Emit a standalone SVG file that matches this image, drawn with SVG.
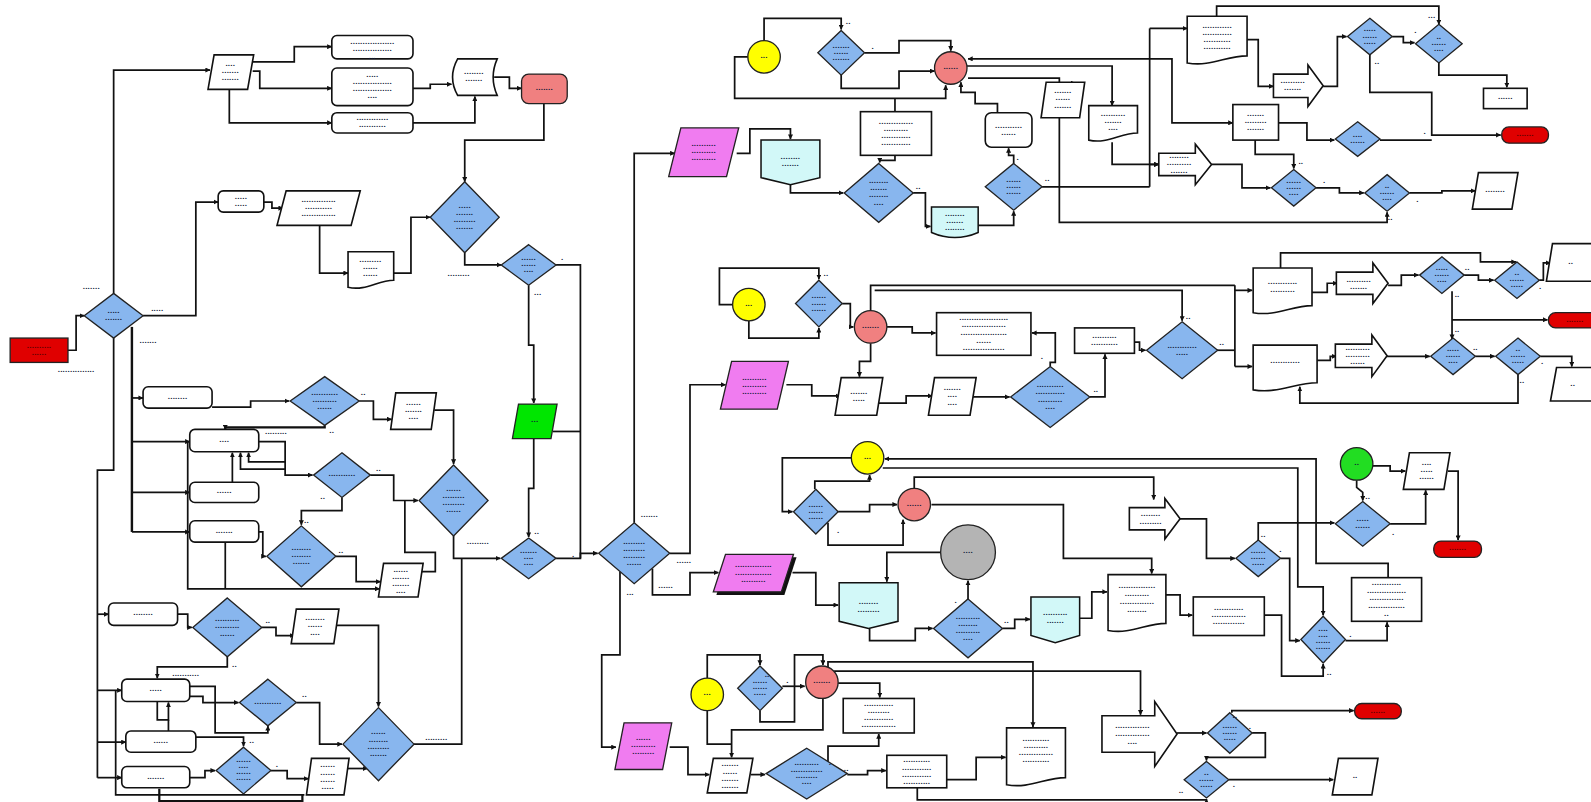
<svg xmlns="http://www.w3.org/2000/svg" width="1591" height="802" viewBox="0 0 1591 802">
<defs>
<marker id="ah" viewBox="0 0 6 6" refX="5.5" refY="3" markerWidth="5" markerHeight="5" markerUnits="userSpaceOnUse" orient="auto"><path d="M0,0 L6,3 L0,6 z" fill="#111"/></marker>
<style>
.s{fill:#fff;stroke:#111;stroke-width:1.6}
.d{fill:#88b6ee;stroke:#222;stroke-width:1.3}
.sal{fill:#f08080;stroke:#222;stroke-width:1.3}
.yel{fill:#ffff00;stroke:#222;stroke-width:1.3}
.grn{fill:#22dd22;stroke:#222;stroke-width:1.3}
.gry{fill:#b4b4b4;stroke:#222;stroke-width:1.3}
.mag{fill:#f07cf0;stroke:#222;stroke-width:1.3}
.cy{fill:#d2f8f8;stroke:#111;stroke-width:1.5}
.red{fill:#e00000;stroke:#222;stroke-width:1.3}
.cn polyline{fill:none;stroke:#111;stroke-width:1.7;marker-end:url(#ah)}
.cn .nm{marker-end:none}
.t{font-family:"Liberation Sans",Arial,sans-serif;font-size:8px;font-weight:bold;fill:#101838;text-anchor:middle;letter-spacing:0.2px}
.tr{fill:#5a0000}
.l{font-family:"Liberation Sans",Arial,sans-serif;font-size:8px;font-weight:bold;fill:#101838;text-anchor:middle;letter-spacing:0.2px}
</style>
</defs>
<rect width="1591" height="802" fill="#fff"/>
<g transform="scale(1.0147 1.0152)">
<g class="cn" id="connectors">
<polyline points="67,345 75,345 75,311 83,311"/>
<polyline points="112,289 112,69 207,69"/>
<polyline points="249,61 290,61 290,46 327,46"/>
<polyline points="249,70 256,70 256,87 327,87"/>
<polyline points="226,88 226,121 327,121"/>
<polyline points="407,87 424,87 424,83 445,83"/>
<polyline points="407,121 468,121 468,95"/>
<polyline points="487,76 502,76 502,87 514,87"/>
<polyline points="536,102 536,138 458,138 458,179"/>
<polyline points="141,311 193,311 193,199 215,199"/>
<polyline points="260,199 268,199 268,205 279,205"/>
<polyline points="315,222 315,269 343,269"/>
<polyline points="388,269 405,269 405,214 424,214"/>
<polyline points="458,249 458,261 494,261"/>
<polyline class="nm" points="548,261 572,261 572,550"/>
<polyline points="521,281 521,340 526,340 526,397"/>
<polyline class="nm" points="545,425 572,425"/>
<polyline points="526,432 526,481 521,481 521,529"/>
<polyline points="548,550 572,550 572,545 589,545"/>
<polyline points="625,515 625,151 665,151"/>
<polyline class="nm" points="112,333 112,463 96,463 96,766"/>
<polyline class="nm" points="130,322 130,524" style="stroke-width:2.4"/>
<polyline points="130,392 141,392"/>
<polyline points="130,435 187,435"/>
<polyline points="130,485 187,485"/>
<polyline points="130,524 187,524"/>
<polyline points="185,435 185,580 374,580"/>
<polyline class="nm" points="222,534 222,580"/>
<polyline points="209,401 247,401 247,395 285,395"/>
<polyline points="354,395 368,395 368,413 386,413"/>
<polyline points="428,404 447,404 447,457"/>
<polyline points="320,419 320,421 222,421 222,423" style="stroke-width:2.2"/>
<polyline points="255,435 281,435 281,468 308,468"/>
<polyline points="229,475 229,446"/>
<polyline points="281,462 237,462 237,446"/>
<polyline points="281,455 245,455 245,446"/>
<polyline points="337,490 337,503 297,503 297,517"/>
<polyline points="365,468 388,468 388,493 412,493"/>
<polyline points="447,528 447,550 493,550"/>
<polyline points="255,524 259,524 259,548 262,548"/>
<polyline points="331,548 351,548 351,573 375,573"/>
<polyline class="nm" points="414,563 429,563 429,544 399,544 399,493"/>
<polyline class="nm" points="455,550 455,733 408,733"/>
<polyline points="96,605 107,605"/>
<polyline points="175,605 185,605 185,618 189,618"/>
<polyline points="258,618 272,618 272,626 290,626"/>
<polyline points="331,616 373,616 373,696"/>
<polyline points="224,647 224,657 155,657 155,668"/>
<polyline points="96,680 120,680"/>
<polyline class="nm" points="114,680 114,783 300,783"/>
<polyline points="96,731 124,731"/>
<polyline points="96,766 120,766"/>
<polyline points="187,676 212,676 212,722 264,722 264,715"/>
<polyline points="187,686 200,686 200,692 235,692"/>
<polyline points="155,691 155,709 166,709 166,692"/>
<polyline points="166,709 166,726 240,726 240,735"/>
<polyline points="292,692 315,692 315,733 337,733"/>
<polyline points="187,766 202,766 202,759 212,759"/>
<polyline points="267,759 283,759 283,767 304,767"/>
<polyline points="341,757 362,757"/>
<polyline class="nm" points="157,777 157,789 298,789 298,783" style="stroke-width:2.2"/>
<polyline points="753,40 753,18 829,18 829,29"/>
<polyline points="737,56 724,56 724,97 932,97 932,84"/>
<polyline points="852,52 886,52 886,40 937,40 937,50"/>
<polyline points="829,74 829,87 886,87 886,70 921,70"/>
<polyline class="nm" points="882,97 882,110"/>
<polyline points="882,153 882,158 867,158 867,160"/>
<polyline points="726,151 739,151 739,127 779,127 779,137"/>
<polyline points="779,182 779,190 831,190"/>
<polyline points="900,190 912,190 912,223 917,223"/>
<polyline points="964,222 999,222 999,208"/>
<polyline points="999,161 999,153 994,153 994,146"/>
<polyline points="983,111 983,102 961,102 961,91 947,91 947,81"/>
<polyline class="nm" points="1027,184 1133,184"/>
<polyline points="1133,58 954,58"/>
<polyline points="953,65 1096,65 1096,104"/>
<polyline points="954,77 1044,77 1044,219 1367,219 1367,209"/>
<polyline points="1044,82 1060,82"/>
<polyline points="1096,140 1096,162 1142,162"/>
<polyline class="nm" points="1133,28 1133,184"/>
<polyline points="1133,28 1170,28"/>
<polyline points="1133,162 1142,162"/>
<polyline points="1133,58 1155,58 1155,121 1215,121"/>
<polyline points="1199,16 1199,6 1418,6 1418,24"/>
<polyline points="1229,39 1240,39 1240,85 1255,85"/>
<polyline points="1304,85 1318,85 1318,36 1327,36"/>
<polyline points="1372,36 1383,36 1383,42 1394,42"/>
<polyline points="1418,62 1418,74 1485,74 1485,86"/>
<polyline points="1350,54 1350,91 1411,91 1411,133 1479,133"/>
<polyline points="1260,121 1288,121 1288,138 1315,138"/>
<polyline class="nm" points="1360,138 1411,138"/>
<polyline points="1237,138 1237,152 1275,152 1275,166"/>
<polyline points="1194,162 1224,162 1224,185 1252,185"/>
<polyline points="1297,185 1320,185 1320,190 1344,190"/>
<polyline points="1389,190 1421,190 1421,188 1454,188"/>
<polyline points="722,300 709,300 709,264 807,264 807,275"/>
<polyline points="738,316 738,333 807,333 807,323"/>
<polyline points="830,299 838,299 838,322 841,322"/>
<polyline points="874,322 899,322 899,328 922,328"/>
<polyline class="nm" points="858,306 858,281 1217,281"/>
<polyline points="862,286 1165,286 1165,316"/>
<polyline class="nm" points="1217,281 1217,361"/>
<polyline points="1217,286 1234,286"/>
<polyline class="nm" points="1199,345 1217,345"/>
<polyline points="1217,361 1234,361"/>
<polyline points="858,338 858,356 847,356 847,371"/>
<polyline points="660,545 680,545 680,379 715,379"/>
<polyline points="775,379 800,379 800,390 828,390"/>
<polyline points="866,397 893,397 893,390 919,390"/>
<polyline points="958,391 995,391"/>
<polyline points="1035,361 1035,357 1040,357 1040,328 1017,328"/>
<polyline points="1074,391 1089,391 1089,349"/>
<polyline points="1118,337 1123,337 1123,345 1129,345"/>
<polyline points="1262,264 1262,249 1459,249 1459,258 1494,258"/>
<polyline points="1293,288 1308,288 1308,279 1318,279"/>
<polyline points="1368,281 1381,281 1381,271 1398,271"/>
<polyline points="1443,271 1457,271 1457,276 1472,276"/>
<polyline points="1517,276 1521,276 1521,259 1528,259"/>
<polyline points="1431,287 1431,334"/>
<polyline points="1431,315 1525,315"/>
<polyline points="1298,355 1311,355 1311,351 1317,351"/>
<polyline points="1367,351 1409,351"/>
<polyline points="1454,351 1473,351"/>
<polyline points="1518,351 1549,351 1549,361"/>
<polyline points="1496,369 1496,397 1281,397 1281,381"/>
<polyline points="839,451 771,451 771,504 781,504"/>
<polyline points="803,482 803,474 857,474 857,468"/>
<polyline points="826,504 857,504 857,497 884,497"/>
<polyline points="816,515 816,537 890,537 890,512"/>
<polyline points="901,481 901,470 1137,470 1137,492"/>
<polyline points="1368,569 1368,555 1297,555 1297,452 872,452"/>
<polyline points="870,461 1279,461 1279,578 1304,578 1304,606"/>
<polyline points="918,497 1048,497 1048,550 1135,550 1135,565"/>
<polyline points="928,544 874,544 874,573"/>
<polyline points="954,591 954,572"/>
<polyline points="611,563 611,645 593,645 593,736 607,736"/>
<polyline points="643,560 643,586 680,586 680,564 708,564"/>
<polyline points="781,564 804,564 804,596 826,596"/>
<polyline points="857,619 857,631 902,631 902,619 919,619"/>
<polyline points="988,619 1000,619 1000,610 1015,610"/>
<polyline points="1064,609 1076,609 1076,583 1091,583"/>
<polyline points="1149,586 1163,586 1163,606 1175,606"/>
<polyline points="1246,606 1263,606 1263,666 1304,666 1304,654"/>
<polyline points="1163,511 1189,511 1189,550 1217,550"/>
<polyline points="1240,532 1240,515 1315,515"/>
<polyline points="1262,550 1271,550 1271,631 1281,631"/>
<polyline points="1326,631 1367,631 1367,613"/>
<polyline points="1337,473 1337,480 1343,485 1343,493"/>
<polyline points="1353,459 1370,459 1370,464 1385,464"/>
<polyline points="1370,516 1405,516 1405,483"/>
<polyline points="1427,464 1437,464 1437,532"/>
<polyline points="660,736 678,736 678,763 699,763"/>
<polyline points="697,668 697,645 749,645 749,655"/>
<polyline class="nm" points="697,700 697,733 721,733"/>
<polyline points="811,688 811,719 721,719 721,746"/>
<polyline points="749,700 749,711 783,711 783,645 811,645 811,655"/>
<polyline points="771,676 793,676"/>
<polyline points="826,673 867,673 867,687"/>
<polyline points="822,661 1124,661 1124,704"/>
<polyline points="816,657 816,652 1018,652 1018,716"/>
<polyline points="740,763 754,763"/>
<polyline points="816,755 816,735 866,735 866,723"/>
<polyline points="835,763 855,763 855,759 873,759"/>
<polyline points="933,768 962,768 962,746 991,746"/>
<polyline points="904,776 904,788 1189,788 1189,787"/>
<polyline points="1160,722 1189,722"/>
<polyline points="1214,702 1214,700 1334,700"/>
<polyline points="1234,722 1247,722 1247,746 1189,746 1189,749"/>
<polyline points="1211,768 1314,768"/>
</g>

<g id="n1"><rect class="red" x="10" y="333" width="57" height="24"/><text class="t tr" x="38.5" y="342.5"><tspan x="38.5">..........</tspan><tspan x="38.5" dy="7">......</tspan></text></g>
<g id="n2"><polygon class="d" points="112,289 141,311 112,333 83,311"/><text class="t" x="112" y="308.5"><tspan x="112">.....</tspan><tspan x="112" dy="7">.......</tspan></text></g>
<g id="n3"><polygon class="s" points="211,54 250,54 244,88 205,88"/><text class="t" x="227" y="65"><tspan x="227">....</tspan><tspan x="227" dy="7">.......</tspan><tspan x="227" dy="7">.......</tspan></text></g>
<g id="n4"><rect class="s" x="327" y="35" width="80" height="23" rx="5"/><text class="t" x="367" y="43"><tspan x="367">..................</tspan><tspan x="367" dy="7">................</tspan><tspan x="367" dy="8">...</tspan></text></g>
<g id="n5"><rect class="s" x="327" y="67" width="80" height="37" rx="5"/><text class="t" x="367" y="76"><tspan x="367">.....</tspan><tspan x="367" dy="7">................</tspan><tspan x="367" dy="7">................</tspan><tspan x="367" dy="7">....</tspan></text></g>
<g id="n6"><rect class="s" x="327" y="111" width="80" height="20" rx="5"/><text class="t" x="367" y="118.5"><tspan x="367">.............</tspan><tspan x="367" dy="7">...........</tspan></text></g>
<g id="n7"><path class="s" d="M451,58 H490 Q482,76 490,94 H451 Q441,76 451,58 Z"/><text class="t" x="467" y="73"><tspan x="467">........</tspan><tspan x="467" dy="7">.......</tspan></text></g>
<g id="n8"><rect class="sal" x="514" y="73" width="45" height="29" rx="7"/><text class="t" x="536.5" y="88.5">.......</text></g>
<g id="n9"><polygon class="d" points="458,179 492,214 458,249 424,214"/><text class="t" x="458" y="204.5"><tspan x="458">.....</tspan><tspan x="458" dy="7">.......</tspan><tspan x="458" dy="7">.........</tspan><tspan x="458" dy="7">.......</tspan></text></g>
<g id="n10"><rect class="s" x="215" y="188" width="45" height="21" rx="5"/><text class="t" x="237.5" y="196"><tspan x="237.5">.....</tspan><tspan x="237.5" dy="7">.....</tspan></text></g>
<g id="n11"><polygon class="s" points="282,188 355,188 346,222 273,222"/><text class="t" x="314" y="199"><tspan x="314">..............</tspan><tspan x="314" dy="7">...........</tspan><tspan x="314" dy="7">..............</tspan></text></g>
<g id="n12"><path class="s" d="M343,248 H388 V276 C372,276 361,287 343,283 Z"/><text class="t" x="365" y="258"><tspan x="365">.........</tspan><tspan x="365" dy="7">......</tspan><tspan x="365" dy="7">......</tspan></text></g>
<g id="n13"><polygon class="d" points="521,241 548,261 521,281 494,261"/><text class="t" x="521" y="256"><tspan x="521">......</tspan><tspan x="521" dy="6">......</tspan><tspan x="521" dy="6">....</tspan></text></g>
<g id="n14"><polygon points="511,398 549,398 543,432 505,432" fill="#00e600" stroke="#222" stroke-width="1.3"/><text class="t" x="527" y="416">...</text></g>
<g id="n15"><polygon class="d" points="521,530 548,550 521,570 494,550"/><text class="t" x="521" y="545"><tspan x="521">.......</tspan><tspan x="521" dy="6">....</tspan><tspan x="521" dy="6">....</tspan></text></g>
<g id="n16"><polygon class="d" points="625,515 660,545 625,575 590,545"/><text class="t" x="625" y="535.5"><tspan x="625">.........</tspan><tspan x="625" dy="7">.........</tspan><tspan x="625" dy="7">.........</tspan><tspan x="625" dy="7">......</tspan></text></g>

<g id="n17"><rect class="s" x="141" y="381" width="68" height="21" rx="5"/><text class="t" x="175" y="393">........</text></g>
<g id="n18"><polygon class="d" points="320,371 354,395 320,419 286,395"/><text class="t" x="320" y="389"><tspan x="320">...........</tspan><tspan x="320" dy="7">..........</tspan><tspan x="320" dy="7">......</tspan></text></g>
<g id="n19"><polygon class="s" points="390,387 430,387 425,423 385,423"/><text class="t" x="407.5" y="399"><tspan x="407.5">......</tspan><tspan x="407.5" dy="7">.......</tspan><tspan x="407.5" dy="7">....</tspan></text></g>
<g id="n20"><rect class="s" x="187" y="423" width="68" height="22" rx="5"/><text class="t" x="221" y="435">....</text></g>
<g id="n21"><rect class="s" x="187" y="475" width="68" height="20" rx="5"/><text class="t" x="221" y="486">......</text></g>
<g id="n22"><rect class="s" x="187" y="513" width="68" height="21" rx="5"/><text class="t" x="221" y="525">.......</text></g>
<g id="n23"><polygon class="d" points="337,446 365,468 337,490 309,468"/><text class="t" x="337" y="469">...........</text></g>
<g id="n24"><polygon class="d" points="447,458 481,493 447,528 413,493"/><text class="t" x="447" y="483.5"><tspan x="447">......</tspan><tspan x="447" dy="7">.........</tspan><tspan x="447" dy="7">.........</tspan><tspan x="447" dy="7">......</tspan></text></g>
<g id="n25"><polygon class="d" points="297,518 331,548 297,578 263,548"/><text class="t" x="297" y="542"><tspan x="297">........</tspan><tspan x="297" dy="7">........</tspan><tspan x="297" dy="7">.......</tspan></text></g>
<g id="n26"><polygon class="s" points="378,555 417,555 412,588 373,588"/><text class="t" x="395" y="563"><tspan x="395">......</tspan><tspan x="395" dy="7">.......</tspan><tspan x="395" dy="7">.......</tspan><tspan x="395" dy="7">....</tspan></text></g>

<g id="n27"><rect class="s" x="107" y="594" width="68" height="22" rx="5"/><text class="t" x="141" y="606">........</text></g>
<g id="n28"><polygon class="d" points="224,589 258,618 224,647 190,618"/><text class="t" x="224" y="612"><tspan x="224">..........</tspan><tspan x="224" dy="7">..........</tspan><tspan x="224" dy="7">......</tspan></text></g>
<g id="n29"><polygon class="s" points="292,600 334,600 329,634 287,634"/><text class="t" x="310.5" y="611"><tspan x="310.5">........</tspan><tspan x="310.5" dy="7">......</tspan><tspan x="310.5" dy="7">....</tspan></text></g>
<g id="n30"><rect class="s" x="120" y="669" width="67" height="22" rx="5"/><text class="t" x="153.5" y="681">.....</text></g>
<g id="n31"><polygon class="d" points="264,669 292,692 264,715 236,692"/><text class="t" x="264" y="693">...........</text></g>
<g id="n32"><rect class="s" x="124" y="720" width="69" height="21" rx="5"/><text class="t" x="158.5" y="732">......</text></g>
<g id="n33"><rect class="s" x="120" y="755" width="67" height="21" rx="5"/><text class="t" x="153.5" y="767">.......</text></g>
<g id="n34"><polygon class="d" points="240,736 267,759 240,782 213,759"/><text class="t" x="240" y="750.5"><tspan x="240">......</tspan><tspan x="240" dy="6">....</tspan><tspan x="240" dy="6">......</tspan><tspan x="240" dy="6">......</tspan></text></g>
<g id="n35"><polygon class="s" points="307,747 344,747 339,783 302,783"/><text class="t" x="323" y="756"><tspan x="323">......</tspan><tspan x="323" dy="7">......</tspan><tspan x="323" dy="7">......</tspan><tspan x="323" dy="7">.....</tspan></text></g>
<g id="n36"><polygon class="d" points="373,697 408,733 373,769 338,733"/><text class="t" x="373" y="723.5"><tspan x="373">......</tspan><tspan x="373" dy="7">........</tspan><tspan x="373" dy="7">.........</tspan><tspan x="373" dy="7">.......</tspan></text></g>

<g id="n37"><polygon class="mag" points="671,126 728,126 716,174 659,174"/><text class="t" x="693.5" y="144"><tspan x="693.5">..........</tspan><tspan x="693.5" dy="7">..........</tspan><tspan x="693.5" dy="7">..........</tspan></text></g>
<g id="n38"><path class="cy" d="M750,138 H808 V175 L779,182 L750,175 Z"/><text class="t" x="779" y="157"><tspan x="779">........</tspan><tspan x="779" dy="7">.......</tspan></text></g>
<g id="n39"><polygon class="d" points="866,161 900,190 866,219 832,190"/><text class="t" x="866" y="180.5"><tspan x="866">........</tspan><tspan x="866" dy="7">.......</tspan><tspan x="866" dy="7">........</tspan><tspan x="866" dy="7">....</tspan></text></g>
<g id="n40"><rect class="s" x="848" y="110" width="70" height="43"/><text class="t" x="883" y="122"><tspan x="883">..............</tspan><tspan x="883" dy="7">..........</tspan><tspan x="883" dy="7">............</tspan><tspan x="883" dy="7">............</tspan></text></g>
<g id="n41"><path class="cy" d="M918,204 H964 V229 Q941,239 918,229 Z"/><text class="t" x="941" y="213"><tspan x="941">........</tspan><tspan x="941" dy="7">.......</tspan><tspan x="941" dy="7">........</tspan></text></g>
<g id="n42"><polygon class="d" points="999,161 1027,184 999,207 971,184"/><text class="t" x="999" y="179"><tspan x="999">......</tspan><tspan x="999" dy="6">......</tspan><tspan x="999" dy="6">......</tspan></text></g>
<g id="n43"><rect class="s" x="971" y="111" width="46" height="34" rx="6"/><text class="t" x="994" y="126"><tspan x="994">...........</tspan><tspan x="994" dy="7">......</tspan></text></g>
<g id="n44"><circle class="sal" cx="937" cy="67" r="16"/><text class="t" x="937" y="68">......</text></g>
<g id="n45"><circle class="yel" cx="753" cy="56" r="16"/><text class="t" x="753" y="57">...</text></g>
<g id="n46"><polygon class="d" points="829,30 852,52 829,74 806,52"/><text class="t" x="829" y="47"><tspan x="829">.......</tspan><tspan x="829" dy="6">......</tspan><tspan x="829" dy="6">.......</tspan></text></g>
<g id="n47"><polygon class="s" points="1031,81 1069,81 1064,116 1026,116"/><text class="t" x="1047.5" y="92"><tspan x="1047.5">.......</tspan><tspan x="1047.5" dy="7">......</tspan><tspan x="1047.5" dy="7">.......</tspan></text></g>
<g id="n48"><path class="s" d="M1073,104 H1121 V131 C1104,131 1092,142 1073,138 Z"/><text class="t" x="1097" y="114"><tspan x="1097">..........</tspan><tspan x="1097" dy="7">.......</tspan><tspan x="1097" dy="7">....</tspan></text></g>

<g id="n49"><path class="s" d="M1170,16 H1229 V55 C1208,55 1194,66 1170,62 Z"/><text class="t" x="1199.5" y="27.5"><tspan x="1199.5">............</tspan><tspan x="1199.5" dy="7">............</tspan><tspan x="1199.5" dy="7">...........</tspan><tspan x="1199.5" dy="7">...........</tspan></text></g>
<g id="n50"><path class="s" d="M1255,73 H1289 V64 L1304,84.5 L1289,105 V96 H1255 Z"/><text class="t" x="1274" y="82"><tspan x="1274">..........</tspan><tspan x="1274" dy="7">.......</tspan></text></g>
<g id="n51"><polygon class="d" points="1350,18 1372,36 1350,54 1328,36"/><text class="t" x="1350" y="31"><tspan x="1350">.....</tspan><tspan x="1350" dy="6">......</tspan><tspan x="1350" dy="6">.....</tspan></text></g>
<g id="n52"><polygon class="d" points="1418,24 1441,43 1418,62 1395,43"/><text class="t" x="1418" y="38"><tspan x="1418">..</tspan><tspan x="1418" dy="6">......</tspan><tspan x="1418" dy="6">....</tspan></text></g>
<g id="n53"><rect class="s" x="1462" y="87" width="43" height="20"/><text class="t" x="1483.5" y="98">......</text></g>
<g id="n54"><rect class="red" x="1480" y="125" width="46" height="16" rx="7"/><text class="t tr" x="1503" y="134">.......</text></g>
<g id="n55"><rect class="s" x="1215" y="103" width="45" height="35"/><text class="t" x="1237.5" y="114"><tspan x="1237.5">.......</tspan><tspan x="1237.5" dy="7">.........</tspan><tspan x="1237.5" dy="7">.......</tspan></text></g>
<g id="n56"><polygon class="d" points="1338,120 1360,137 1338,154 1316,137"/><text class="t" x="1338" y="135"><tspan x="1338">....</tspan><tspan x="1338" dy="6">......</tspan></text></g>
<g id="n57"><path class="s" d="M1142,151 H1178 V142 L1194,162 L1178,182 V173 H1142 Z"/><text class="t" x="1162" y="156"><tspan x="1162">........</tspan><tspan x="1162" dy="7">..........</tspan><tspan x="1162" dy="7">.......</tspan></text></g>
<g id="n58"><polygon class="d" points="1275,167 1297,185 1275,203 1253,185"/><text class="t" x="1275" y="180"><tspan x="1275">......</tspan><tspan x="1275" dy="6">......</tspan><tspan x="1275" dy="6">....</tspan></text></g>
<g id="n59"><polygon class="d" points="1367,172 1389,190 1367,208 1345,190"/><text class="t" x="1367" y="185"><tspan x="1367">..</tspan><tspan x="1367" dy="6">......</tspan><tspan x="1367" dy="6">....</tspan></text></g>
<g id="n60"><polygon class="s" points="1457,170 1496,170 1490,206 1451,206"/><text class="t" x="1473.5" y="189">........</text></g>

<g id="n61"><circle class="yel" cx="738" cy="300" r="16"/><text class="t" x="738" y="301">...</text></g>
<g id="n62"><polygon class="d" points="807,276 830,299 807,322 784,299"/><text class="t" x="807" y="294"><tspan x="807">......</tspan><tspan x="807" dy="6">......</tspan><tspan x="807" dy="6">......</tspan></text></g>
<g id="n63"><circle class="sal" cx="858" cy="322" r="16"/><text class="t" x="858" y="323">.......</text></g>
<g id="n64"><rect class="s" x="923" y="308" width="93" height="42"/><text class="t" x="969.5" y="315"><tspan x="969.5">....................</tspan><tspan x="969.5" dy="7.5">..................</tspan><tspan x="969.5" dy="7.5">...................</tspan><tspan x="969.5" dy="7.5">......</tspan><tspan x="969.5" dy="7.5">.................</tspan></text></g>
<g id="n65"><polygon class="mag" points="721,356 777,356 766,403 710,403"/><text class="t" x="743.5" y="374"><tspan x="743.5">..........</tspan><tspan x="743.5" dy="7">..........</tspan><tspan x="743.5" dy="7">..........</tspan></text></g>
<g id="n66"><polygon class="s" points="829,372 870,372 864,409 823,409"/><text class="t" x="846.5" y="388"><tspan x="846.5">.......</tspan><tspan x="846.5" dy="7">.....</tspan></text></g>
<g id="n67"><polygon class="s" points="921,372 962,372 956,409 915,409"/><text class="t" x="938.5" y="384.5"><tspan x="938.5">.......</tspan><tspan x="938.5" dy="7">....</tspan><tspan x="938.5" dy="7">....</tspan></text></g>
<g id="n68"><polygon class="d" points="1035,361 1074,391 1035,421 996,391"/><text class="t" x="1035" y="381.5"><tspan x="1035">...........</tspan><tspan x="1035" dy="7">............</tspan><tspan x="1035" dy="7">..........</tspan><tspan x="1035" dy="7">....</tspan></text></g>
<g id="n69"><rect class="s" x="1059" y="323" width="59" height="25"/><text class="t" x="1088.5" y="333"><tspan x="1088.5">..........</tspan><tspan x="1088.5" dy="7">...........</tspan></text></g>
<g id="n70"><polygon class="d" points="1165,317 1200,345 1165,373 1130,345"/><text class="t" x="1165" y="342.5"><tspan x="1165">............</tspan><tspan x="1165" dy="7">.....</tspan></text></g>
<g id="n71"><path class="s" d="M1235,264 H1293 V301 C1273,301 1258,312 1235,308 Z"/><text class="t" x="1264" y="280"><tspan x="1264">............</tspan><tspan x="1264" dy="8">..........</tspan></text></g>
<g id="n72"><path class="s" d="M1235,340 H1298 V377 C1276,377 1260,388 1235,384 Z"/><text class="t" x="1266.5" y="358">............</text></g>
<g id="n73"><path class="s" d="M1317,268 H1353 V259 L1368,279 L1353,299 V290 H1317 Z"/><text class="t" x="1339" y="278"><tspan x="1339">..........</tspan><tspan x="1339" dy="7">.......</tspan></text></g>
<g id="n74"><path class="s" d="M1316,339 H1352 V330 L1367,350.5 L1352,371 V362 H1316 Z"/><text class="t" x="1338" y="345"><tspan x="1338">..........</tspan><tspan x="1338" dy="7">..........</tspan><tspan x="1338" dy="7">......</tspan></text></g>
<g id="n75"><polygon class="d" points="1421,253 1443,271 1421,289 1399,271"/><text class="t" x="1421" y="266"><tspan x="1421">.....</tspan><tspan x="1421" dy="6">......</tspan><tspan x="1421" dy="6">....</tspan></text></g>
<g id="n76"><polygon class="d" points="1495,258 1517,276 1495,294 1473,276"/><text class="t" x="1495" y="271"><tspan x="1495">..</tspan><tspan x="1495" dy="6">......</tspan><tspan x="1495" dy="6">.....</tspan></text></g>
<g id="n77"><polygon class="s" points="1530,240 1578,240 1572,277 1524,277"/><text class="t" x="1548" y="260">..</text></g>
<g id="n78"><rect class="red" x="1526" y="308" width="55" height="15" rx="7"/><text class="t tr" x="1552" y="317">.......</text></g>
<g id="n79"><polygon class="d" points="1432,333 1454,351 1432,369 1410,351"/><text class="t" x="1432" y="346"><tspan x="1432">.....</tspan><tspan x="1432" dy="6">......</tspan><tspan x="1432" dy="6">....</tspan></text></g>
<g id="n80"><polygon class="d" points="1496,333 1518,351 1496,369 1474,351"/><text class="t" x="1496" y="346"><tspan x="1496">..</tspan><tspan x="1496" dy="6">......</tspan><tspan x="1496" dy="6">.....</tspan></text></g>
<g id="n81"><polygon class="s" points="1534,362 1580,362 1574,395 1528,395"/><text class="t" x="1550" y="380">..</text></g>

<g id="n82"><circle class="yel" cx="855" cy="451" r="16"/><text class="t" x="855" y="452">...</text></g>
<g id="n83"><polygon class="d" points="804,482 826,504 804,526 782,504"/><text class="t" x="804" y="499"><tspan x="804">......</tspan><tspan x="804" dy="6">......</tspan><tspan x="804" dy="6">......</tspan></text></g>
<g id="n84"><circle class="sal" cx="901" cy="497" r="16"/><text class="t" x="901" y="498">......</text></g>
<g id="n85"><circle class="gry" cx="954" cy="544" r="27"/><text class="t" x="954" y="545">....</text></g>
<g id="n86"><polygon points="718,549 785,549 773,586 706,586" fill="#111"/><polygon class="mag" points="715,546 782,546 770,583 703,583"/><text class="t" x="742.5" y="559"><tspan x="742.5">...............</tspan><tspan x="742.5" dy="7">...............</tspan><tspan x="742.5" dy="7">..........</tspan></text></g>
<g id="n87"><path class="cy" d="M827,574 H885 V612 L856,619 L827,612 Z"/><text class="t" x="856" y="595"><tspan x="856">........</tspan><tspan x="856" dy="8">.........</tspan></text></g>
<g id="n88"><polygon class="d" points="954,590 988,619 954,648 920,619"/><text class="t" x="954" y="609.5"><tspan x="954">..........</tspan><tspan x="954" dy="7">........</tspan><tspan x="954" dy="7">..........</tspan><tspan x="954" dy="7">....</tspan></text></g>
<g id="n89"><path class="cy" d="M1016,588 H1064 V626 L1040,633 L1016,626 Z"/><text class="t" x="1040" y="606"><tspan x="1040">..........</tspan><tspan x="1040" dy="8">.......</tspan></text></g>
<g id="n90"><path class="s" d="M1092,566 H1149 V614 C1129,614 1115,625 1092,621 Z"/><text class="t" x="1120.5" y="579"><tspan x="1120.5">...............</tspan><tspan x="1120.5" dy="8">..........</tspan><tspan x="1120.5" dy="8">..............</tspan><tspan x="1120.5" dy="8">........</tspan></text></g>
<g id="n91"><rect class="s" x="1176" y="588" width="70" height="38"/><text class="t" x="1211" y="601"><tspan x="1211">............</tspan><tspan x="1211" dy="7">..............</tspan><tspan x="1211" dy="7">.............</tspan></text></g>
<g id="n92"><path class="s" d="M1113,500 H1148 V491 L1163,511 L1148,531 V522 H1113 Z"/><text class="t" x="1134" y="508"><tspan x="1134">........</tspan><tspan x="1134" dy="8">.........</tspan></text></g>
<g id="n93"><polygon class="d" points="1240,532 1262,550 1240,568 1218,550"/><text class="t" x="1240" y="545"><tspan x="1240">......</tspan><tspan x="1240" dy="6">......</tspan><tspan x="1240" dy="6">.....</tspan></text></g>
<g id="n94"><polygon class="d" points="1304,607 1326,630 1304,653 1282,630"/><text class="t" x="1304" y="621.5"><tspan x="1304">....</tspan><tspan x="1304" dy="6">....</tspan><tspan x="1304" dy="6">......</tspan><tspan x="1304" dy="6">......</tspan></text></g>
<g id="n95"><circle class="grn" cx="1337" cy="457" r="16"/><text class="t" x="1337" y="458">..</text></g>
<g id="n96"><polygon class="s" points="1389,446 1429,446 1423,482 1383,482"/><text class="t" x="1406" y="458"><tspan x="1406">....</tspan><tspan x="1406" dy="7">.....</tspan><tspan x="1406" dy="7">......</tspan></text></g>
<g id="n97"><polygon class="d" points="1343,494 1370,516 1343,538 1316,516"/><text class="t" x="1343" y="513.5"><tspan x="1343">.....</tspan><tspan x="1343" dy="7">......</tspan></text></g>
<g id="n98"><rect class="red" x="1413" y="533" width="47" height="16" rx="7"/><text class="t tr" x="1436.5" y="542">.......</text></g>
<g id="n99"><rect class="s" x="1332" y="569" width="69" height="43"/><text class="t" x="1366.5" y="576.5"><tspan x="1366.5">............</tspan><tspan x="1366.5" dy="7.5">................</tspan><tspan x="1366.5" dy="7.5">..............</tspan><tspan x="1366.5" dy="7.5">...............</tspan><tspan x="1366.5" dy="7.5">..</tspan></text></g>

<g id="n100"><polygon class="mag" points="615,712 662,712 653,758 606,758"/><text class="t" x="634" y="729"><tspan x="634">......</tspan><tspan x="634" dy="7">..........</tspan><tspan x="634" dy="7">.........</tspan></text></g>
<g id="n101"><circle class="yel" cx="697" cy="684" r="16"/><text class="t" x="697" y="685">...</text></g>
<g id="n102"><polygon class="d" points="749,656 771,678 749,700 727,678"/><text class="t" x="749" y="673"><tspan x="749">......</tspan><tspan x="749" dy="6">......</tspan><tspan x="749" dy="6">.....</tspan></text></g>
<g id="n103"><circle class="sal" cx="810" cy="672" r="16"/><text class="t" x="810" y="673">.......</text></g>
<g id="n104"><rect class="s" x="831" y="688" width="70" height="34"/><text class="t" x="866" y="695.5"><tspan x="866">............</tspan><tspan x="866" dy="7">.........</tspan><tspan x="866" dy="7">............</tspan><tspan x="866" dy="7">..............</tspan></text></g>
<g id="n105"><polygon class="s" points="703,747 742,747 736,781 697,781"/><text class="t" x="719.5" y="755"><tspan x="719.5">.......</tspan><tspan x="719.5" dy="7">......</tspan><tspan x="719.5" dy="7">.......</tspan><tspan x="719.5" dy="7">.......</tspan></text></g>
<g id="n106"><polygon class="d" points="795,737 835,762 795,787 755,762"/><text class="t" x="795" y="754"><tspan x="795">..........</tspan><tspan x="795" dy="6">.............</tspan><tspan x="795" dy="6">.........</tspan><tspan x="795" dy="6">....</tspan></text></g>
<g id="n107"><rect class="s" x="874" y="744" width="59" height="32"/><text class="t" x="903.5" y="751"><tspan x="903.5">...........</tspan><tspan x="903.5" dy="7">............</tspan><tspan x="903.5" dy="7">............</tspan><tspan x="903.5" dy="7">...........</tspan></text></g>
<g id="n108"><path class="s" d="M992,717 H1050 V766 C1030,766 1015,777 992,773 Z"/><text class="t" x="1021" y="730"><tspan x="1021">...........</tspan><tspan x="1021" dy="7">..........</tspan><tspan x="1021" dy="7">..............</tspan><tspan x="1021" dy="7">...........</tspan></text></g>
<g id="n109"><path class="s" d="M1086,705 H1138 V691 L1160,723 L1138,755 V741 H1086 Z"/><text class="t" x="1116" y="717"><tspan x="1116">..............</tspan><tspan x="1116" dy="8">..............</tspan><tspan x="1116" dy="8">....</tspan></text></g>
<g id="n110"><polygon class="d" points="1212,702 1234,722 1212,742 1190,722"/><text class="t" x="1212" y="717"><tspan x="1212">......</tspan><tspan x="1212" dy="6">......</tspan><tspan x="1212" dy="6">.....</tspan></text></g>
<g id="n111"><rect class="red" x="1335" y="693" width="46" height="15" rx="7"/><text class="t tr" x="1358" y="702">......</text></g>
<g id="n112"><polygon class="d" points="1189,750 1211,768 1189,786 1167,768"/><text class="t" x="1189" y="763"><tspan x="1189">..</tspan><tspan x="1189" dy="6">......</tspan><tspan x="1189" dy="6">.....</tspan></text></g>
<g id="n113"><polygon class="s" points="1319,747 1358,747 1352,783 1313,783"/><text class="t" x="1335.5" y="766">..</text></g>

<g id="labels">
<text class="l" x="75" y="366">...............</text>
<text class="l" x="90" y="285">.......</text>
<text class="l" x="155" y="306">.....</text>
<text class="l" x="146" y="338">.......</text>
<text class="l" x="452" y="272">.........</text>
<text class="l" x="554" y="256">.</text>
<text class="l" x="530" y="291">...</text>
<text class="l" x="529" y="526">..</text>
<text class="l" x="565" y="549">.</text>
<text class="l" x="471" y="536">.........</text>
<text class="l" x="640" y="509">.......</text>
<text class="l" x="674" y="555">......</text>
<text class="l" x="656" y="579">......</text>
<text class="l" x="621" y="586">...</text>
<text class="l" x="358" y="389">..</text>
<text class="l" x="327" y="427">..</text>
<text class="l" x="272" y="428">.........</text>
<text class="l" x="373" y="464">..</text>
<text class="l" x="318" y="492">..</text>
<text class="l" x="302" y="515">..</text>
<text class="l" x="336" y="545">..</text>
<text class="l" x="264" y="614">..</text>
<text class="l" x="231" y="657">..</text>
<text class="l" x="183" y="666">...........</text>
<text class="l" x="300" y="687">..</text>
<text class="l" x="248" y="732">..</text>
<text class="l" x="273" y="756">.</text>
<text class="l" x="430" y="729">.........</text>
<text class="l" x="836" y="24">..</text>
<text class="l" x="860" y="48">.</text>
<text class="l" x="905" y="186">..</text>
<text class="l" x="1003" y="158">.</text>
<text class="l" x="1032" y="178">..</text>
<text class="l" x="1395" y="33">.</text>
<text class="l" x="1411" y="18">...</text>
<text class="l" x="1357" y="63">..</text>
<text class="l" x="1404" y="132">.</text>
<text class="l" x="1282" y="162">..</text>
<text class="l" x="1305" y="180">.</text>
<text class="l" x="1397" y="199">.</text>
<text class="l" x="1370" y="217">..</text>
<text class="l" x="814" y="272">..</text>
<text class="l" x="1027" y="354">.</text>
<text class="l" x="1080" y="386">..</text>
<text class="l" x="1171" y="314">..</text>
<text class="l" x="1204" y="340">..</text>
<text class="l" x="1446" y="266">..</text>
<text class="l" x="1518" y="285">.</text>
<text class="l" x="1436" y="293">..</text>
<text class="l" x="1436" y="327">..</text>
<text class="l" x="1454" y="345">..</text>
<text class="l" x="1520" y="359">.</text>
<text class="l" x="1500" y="377">..</text>
<text class="l" x="826" y="525">.</text>
<text class="l" x="942" y="594">.</text>
<text class="l" x="992" y="614">..</text>
<text class="l" x="1245" y="529">..</text>
<text class="l" x="1262" y="544">.</text>
<text class="l" x="1348" y="492">..</text>
<text class="l" x="1373" y="527">.</text>
<text class="l" x="1331" y="627">.</text>
<text class="l" x="1310" y="665">..</text>
<text class="l" x="756" y="667">..</text>
<text class="l" x="776" y="673">.</text>
<text class="l" x="818" y="754">.</text>
<text class="l" x="834" y="759">..</text>
<text class="l" x="1217" y="707">..</text>
<text class="l" x="1232" y="718">.</text>
<text class="l" x="1164" y="781">..</text>
<text class="l" x="1216" y="775">.</text>
</g>
</g>
</svg>
